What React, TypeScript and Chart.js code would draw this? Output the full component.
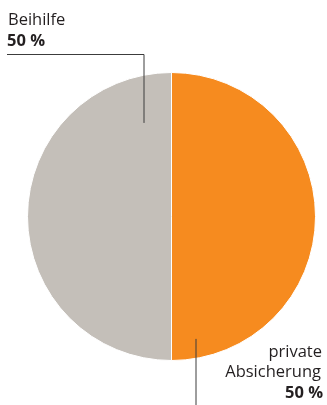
import React, { useEffect, useRef } from "react";
import { Chart, registerables } from "chart.js";

Chart.register(...registerables);

const categories = ["private Absicherung", "Beihilfe"];
const values = [50, 50];
const percentLabels = ["50 %", "50 %"];
const colors = ["#f68b1f", "#c4bfb9"];

const FONT = "'Open Sans', 'Liberation Sans', Arial, sans-serif";

const labelPlugin = {
  id: "leaderLabels",
  afterDraw(chart: any) {
    const ctx = chart.ctx;
    const meta = chart.getDatasetMeta(0);
    const arc = meta.data[0];
    if (!arc) return;
    const cx = arc.x;
    const cy = arc.y;
    const r = arc.outerRadius;
    ctx.save();
    ctx.strokeStyle = "#3c3c3c";
    ctx.lineWidth = 1;
    // Beihilfe leader
    ctx.beginPath();
    ctx.moveTo(7, 54.5);
    ctx.lineTo(cx - 27.5, 54.5);
    ctx.lineTo(cx - 27.5, cy - r * 0.65);
    ctx.stroke();
    // private leader
    ctx.beginPath();
    ctx.moveTo(cx + 24.5, cy + r * 0.85);
    ctx.lineTo(cx + 24.5, 405);
    ctx.stroke();

    ctx.fillStyle = "#231f20";
    ctx.textBaseline = "alphabetic";
    ctx.textAlign = "left";
    ctx.font = `16.5px ${FONT}`;
    ctx.fillText(categories[1], 8, 25);
    ctx.font = `bold 16.5px ${FONT}`;
    ctx.fillText(percentLabels[1], 7, 46);

    ctx.textAlign = "right";
    ctx.font = `16.5px ${FONT}`;
    const parts = categories[0].split(" ");
    ctx.fillText(parts[0], 322, 357);
    ctx.fillText(parts[1], 321, 377);
    ctx.font = `bold 16.5px ${FONT}`;
    ctx.fillText(percentLabels[0], 323, 398);
    ctx.restore();
  },
};

export default function App() {
  const ref = useRef<HTMLCanvasElement>(null);
  useEffect(() => {
    document.body.style.margin = "0";
    const chart = new Chart(ref.current!, {
      type: "pie",
      data: {
        labels: categories,
        datasets: [
          {
            data: values,
            backgroundColor: colors,
            borderColor: "#ffffff",
            borderWidth: 1,
          },
        ],
      },
      options: {
        responsive: false,
        animation: false,
        layout: { padding: { left: 27, right: 11, top: 72, bottom: 44 } },
        plugins: { legend: { display: false }, tooltip: { enabled: false } },
      },
      plugins: [labelPlugin],
    });
    return () => chart.destroy();
  }, []);
  return <canvas ref={ref} width={327} height={405} style={{ display: "block" }} />;
}
